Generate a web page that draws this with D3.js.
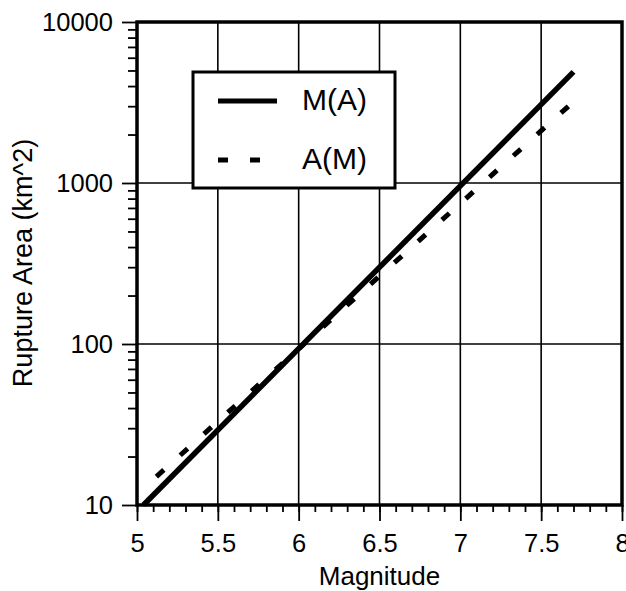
<!DOCTYPE html>
<html>
<head>
<meta charset="utf-8">
<script src="https://cdn.jsdelivr.net/npm/d3@7"></script>
<style>
  html, body { margin: 0; padding: 0; background: #fff; }
  svg { display: block; font-family: "Liberation Sans", Arial, Helvetica, sans-serif; }
</style>
</head>
<body>
<svg id="chart" width="626" height="591"></svg>
<script>
// Magnitude vs. rupture-area regressions (log area axis)
const magMA  = [5.04, 7.7];      // M(A): solid line, magnitude end points
const areaMA = [10, 4900];       // M(A): rupture area (km^2)
const magAM  = [5.12, 7.7];      // A(M): dashed line, magnitude end points
const areaAM = [15, 3200];       // A(M): rupture area (km^2)

const xMajorTicks = [5, 5.5, 6, 6.5, 7, 7.5, 8];
const xTickLabels = ["5", "5.5", "6", "6.5", "7", "7.5", "8"];
const xMinorTicks = d3.range(50, 81).map(v => v / 10);
const yMajorTicks = [10, 100, 1000, 10000];
const yTickLabels = ["10", "100", "1000", "10000"];
const yMinorTicks = [10, 100, 1000].flatMap(d => d3.range(2, 10).map(k => k * d));
const xGrid = [5.5, 6, 6.5, 7, 7.5];
const yGrid = [100, 1000];

const seriesNames = ["M(A)", "A(M)"];

const svg = d3.select("#chart");
const plotL = 137, plotR = 622, plotT = 22, plotB = 505;

const x = d3.scaleLinear().domain([5, 8]).range([plotL, plotR]);
const y = d3.scaleLog().domain([10, 10000]).range([plotB, plotT]);

// grid
const grid = svg.append("g").attr("stroke", "#000").attr("stroke-width", 1.6);
grid.selectAll("line.gx").data(xGrid).join("line")
  .attr("x1", d => x(d)).attr("x2", d => x(d))
  .attr("y1", plotT).attr("y2", plotB);
grid.selectAll("line.gy").data(yGrid).join("line")
  .attr("x1", plotL).attr("x2", plotR)
  .attr("y1", d => y(d)).attr("y2", d => y(d));

// axes
const fontSize = 25.5;
const xAxisMinor = d3.axisBottom(x).tickValues(xMinorTicks).tickSize(7).tickFormat("");
const xAxisMajor = d3.axisBottom(x).tickValues(xMajorTicks).tickSize(16).tickPadding(13)
  .tickFormat((d, i) => xTickLabels[i]);
const yAxisMinor = d3.axisLeft(y).tickValues(yMinorTicks).tickSize(9).tickFormat("");
const yAxisMajor = d3.axisLeft(y).tickValues(yMajorTicks).tickSize(15).tickPadding(9)
  .tickFormat((d, i) => yTickLabels[i]);

function styleAxis(g) {
  g.select(".domain").remove();
  g.selectAll(".tick line").attr("stroke", "#000").attr("stroke-width", 1.8);
  g.selectAll(".tick text").attr("fill", "#000")
    .style("font-size", fontSize + "px")
    .style("font-family", "'Liberation Sans', Arial, sans-serif");
}
svg.append("g").attr("transform", `translate(0,${plotB})`).call(xAxisMinor).call(styleAxis);
svg.append("g").attr("transform", `translate(0,${plotB})`).call(xAxisMajor).call(styleAxis);
svg.append("g").attr("transform", `translate(${plotL},0)`).call(yAxisMinor).call(styleAxis);
svg.append("g").attr("transform", `translate(${plotL},0)`).call(yAxisMajor).call(styleAxis);

// frame
svg.append("rect")
  .attr("x", plotL).attr("y", plotT)
  .attr("width", plotR - plotL).attr("height", plotB - plotT)
  .attr("fill", "none").attr("stroke", "#000").attr("stroke-width", 3.5);

// lines
const line = d3.line().x(d => x(d[0])).y(d => y(d[1]));
const ma = magMA.map((m, i) => [m, areaMA[i]]);
const am = magAM.map((m, i) => [m, areaAM[i]]);

svg.append("path").datum(am).attr("d", line)
  .attr("fill", "none").attr("stroke", "#000").attr("stroke-width", 5)
  .attr("stroke-dasharray", "10,22");
svg.append("path").datum(ma).attr("d", line)
  .attr("fill", "none").attr("stroke", "#000").attr("stroke-width", 5.5);

// legend
const lg = svg.append("g");
lg.append("rect").attr("x", 193).attr("y", 72).attr("width", 202).attr("height", 116)
  .attr("fill", "#fff").attr("stroke", "#000").attr("stroke-width", 3);
const legendRows = [
  { name: seriesNames[0], dash: null, y: 101 },
  { name: seriesNames[1], dash: "10,22", y: 160 }
];
legendRows.forEach(r => {
  lg.append("line").attr("x1", 218).attr("x2", 277).attr("y1", r.y).attr("y2", r.y)
    .attr("stroke", "#000").attr("stroke-width", 5)
    .attr("stroke-dasharray", r.dash);
  lg.append("text").attr("x", 302).attr("y", r.y + 9)
    .style("font-size", "30px").attr("fill", "#000").text(r.name);
});

// axis titles
svg.append("text").attr("x", (plotL + plotR) / 2).attr("y", 585)
  .attr("text-anchor", "middle").style("font-size", "26px").text("Magnitude");
svg.append("text").attr("transform", "translate(32,263) rotate(-90)")
  .attr("text-anchor", "middle").style("font-size", "27px").text("Rupture Area (km^2)");
</script>
</body>
</html>
